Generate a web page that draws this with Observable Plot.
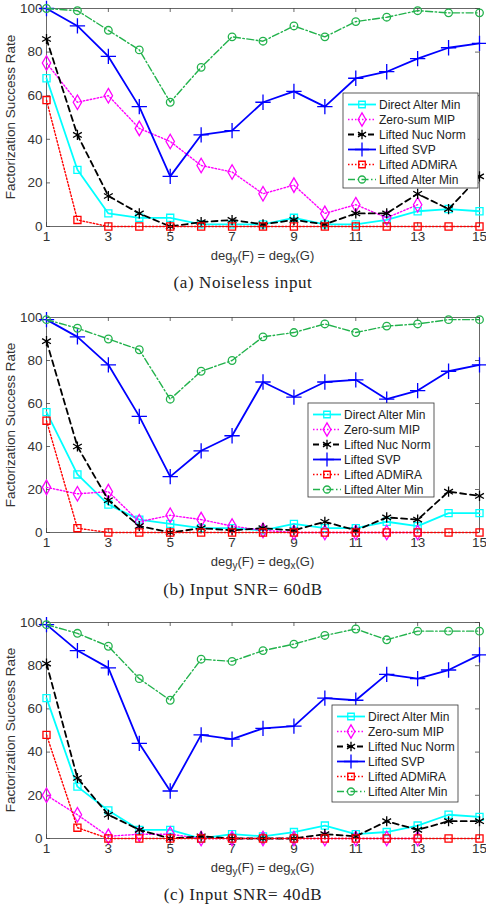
<!DOCTYPE html>
<html><head><meta charset="utf-8">
<script src="https://cdn.jsdelivr.net/npm/d3@7"></script>
<script src="https://cdn.jsdelivr.net/npm/@observablehq/plot@0.6"></script>
<style>
body{margin:0;background:#fff;}
#root{position:relative;width:486px;height:914px;overflow:hidden;font-family:"Liberation Sans",Arial,sans-serif;background:#fff;}
.abs{position:absolute;}
svg.abs g[aria-label$="tick label"]{font-size:13.5px !important;}
svg.abs g[aria-label$="tick label"] text{font-size:13.5px !important;}
.xlabel{position:absolute;left:46px;width:433px;text-align:center;font-size:13px;color:#333;line-height:14px;}
.xlabel sub{font-size:10px;vertical-align:-3px;line-height:0;}
.caption{position:absolute;left:0;width:486px;text-align:center;font-family:"Liberation Serif","Times New Roman",serif;font-size:17px;letter-spacing:0.6px;color:#222;line-height:20px;}
.ylabel{position:absolute;font-size:13.5px;color:#333;white-space:nowrap;transform:translate(-50%,-50%) rotate(-90deg);}
</style></head>
<body><div id="root"></div>
<script>
// ---- data ----
const degrees = [1,2,3,4,5,6,7,8,9,10,11,12,13,14,15];
const xTicks = [1,3,5,7,9,11,13,15];
const yTicks = [0,20,40,60,80,100];
const methods = ["Direct Alter Min","Zero-sum MIP","Lifted Nuc Norm","Lifted SVP","Lifted ADMiRA","Lifted Alter Min"];
const captions = ["(a) Noiseless input","(b) Input SNR= 60dB","(c) Input SNR= 40dB"];
const yLabel = "Factorization Success Rate";

// (a) Noiseless input
const directAlterMinA = [68,26,6,4,4,1,1,1,4,1,1,3,7,8,7];
const zeroSumMipA     = [75,57,60,45,39,28,25,15,19,6,10,4,10,null,null];
const liftedNucNormA  = [86,42,14,6,0,2,3,1,3,1,6,6,15,8,23];
const liftedSvpA      = [100,92,78,55,23,42,44,57,62,55,68,71,77,82,84];
const liftedAdmiraA   = [58,3,0,0,0,0,0,0,0,0,0,0,0,0,0];
const liftedAlterMinA = [100,99,90,81,57,73,87,85,92,87,94,96,99,98,98];

// (b) Input SNR = 60dB
const directAlterMinB = [56,27,13,6,4,2,2,1,4,2,2,5,3,9,9];
const zeroSumMipB     = [21,18,19,5,8,6,3,1,0,0,0,0,0,null,null];
const liftedNucNormB  = [89,40,15,3,0,2,1,2,1,5,1,7,6,19,17];
const liftedSvpB      = [99,91,78,54,26,38,45,70,63,70,71,62,66,75,78];
const liftedAdmiraB   = [52,2,0,0,0,0,0,0,0,0,0,0,0,0,0];
const liftedAlterMinB = [99,95,90,85,62,75,80,91,93,97,93,96,97,99,99];

// (c) Input SNR = 40dB
const directAlterMinC = [65,24,13,4,4,0,2,1,3,6,2,3,6,11,10];
const zeroSumMipC     = [20,11,1,2,2,0,0,0,0,0,0,0,0,null,null];
const liftedNucNormC  = [81,28,11,4,0,1,0,0,0,2,1,8,4,8,8];
const liftedSvpC      = [99,87,79,44,22,48,46,51,52,65,64,76,74,78,85];
const liftedAdmiraC   = [48,5,0,0,0,0,0,0,0,0,0,0,0,0,0];
const liftedAlterMinC = [99,95,89,74,64,83,82,87,90,94,97,92,96,96,96];

// ---- styles ----
const styles = [
  {color:"#00ffff", dash:null,     width:1.8, symbol:"square",  r:4.0},
  {color:"#ff00ff", dash:"1.5,2",  width:1.4, symbol:"diamond", r:4.4},
  {color:"#000000", dash:"6,4",    width:1.8, symbol:"asterisk",r:4.8},
  {color:"#0000ff", dash:null,     width:1.8, symbol:"plus",    r:5.0},
  {color:"#ff0000", dash:"1.5,2",  width:1.4, symbol:"square",  r:4.0},
  {color:"#22b24c", dash:"7,2.5,1.5,2.5", width:1.4, symbol:"circle", r:3.8}
];

const panels = [
  {series:[directAlterMinA,zeroSumMipA,liftedNucNormA,liftedSvpA,liftedAdmiraA,liftedAlterMinA], top:8, bottom:226, xlab:257, cap:283, legend:{x:343,y:93,w:135,h:95}},
  {series:[directAlterMinB,zeroSumMipB,liftedNucNormB,liftedSvpB,liftedAdmiraB,liftedAlterMinB], top:317, bottom:532, xlab:563, cap:590, legend:{x:308,y:403,w:126,h:94}},
  {series:[directAlterMinC,zeroSumMipC,liftedNucNormC,liftedSvpC,liftedAdmiraC,liftedAlterMinC], top:622, bottom:838, xlab:869, cap:895, legend:{x:332,y:705,w:126,h:97}}
];

const root = document.getElementById("root");
const W = 486, ML = 46, MR = 7, MT = 10, MB = 26, TICK = 4;
const axisColor = "#444";

panels.forEach((p, pi) => {
  const plotH = p.bottom - p.top;
  const plotW = W - ML - MR;
  const marks = [
    Plot.frame({stroke: axisColor, strokeWidth: 0.8}),
    Plot.tickX(xTicks, {x: d => d, stroke: axisColor, strokeWidth: 0.8, insetTop: plotH - TICK}),
    Plot.tickX(xTicks, {x: d => d, stroke: axisColor, strokeWidth: 0.8, insetBottom: plotH - TICK}),
    Plot.tickY(yTicks, {y: d => d, stroke: axisColor, strokeWidth: 0.8, insetRight: plotW - TICK}),
    Plot.tickY(yTicks, {y: d => d, stroke: axisColor, strokeWidth: 0.8, insetLeft: plotW - TICK}),
    Plot.axisX({ticks: xTicks, tickSize: 0, tickPadding: 5, label: null, fontSize: 13.5, color: "#333"}),
    Plot.axisY({ticks: yTicks, tickSize: 0, tickPadding: 4, label: null, fontSize: 13.5, color: "#333"})
  ];
  methods.forEach((m, i) => {
    const s = styles[i];
    const rows = degrees.map((d, j) => ({deg: d, rate: p.series[i][j]}));
    marks.push(Plot.line(rows, {x: "deg", y: "rate", stroke: s.color, strokeWidth: s.width, strokeDasharray: s.dash || undefined}));
    marks.push(Plot.dot(rows.filter(r => r.rate != null), {x: "deg", y: "rate", symbol: () => s.symbol, r: s.r, stroke: s.color, fill: "none", strokeWidth: 1.3}));
  });
  const chart = Plot.plot({
    width: W, height: plotH + MT + MB,
    marginLeft: ML, marginRight: MR, marginTop: MT, marginBottom: MB,
    x: {domain: [1, 15]},
    y: {domain: [0, 100]},
    symbol: {type: "identity"},
    style: {fontFamily: '"Liberation Sans", Arial, sans-serif', fontSize: "13.5px", background: "transparent", overflow: "visible"},
    marks
  });
  chart.classList.add("abs");
  chart.style.left = "0px";
  chart.style.top = (p.top - MT) + "px";
  chart.querySelectorAll('g[aria-label$="tick label"]').forEach(g => {
    g.setAttribute("font-size", "13.5");
    g.querySelectorAll("text").forEach(t => t.setAttribute("font-size", "13.5"));
  });
  root.appendChild(chart);

  // y label
  const yl = document.createElement("div");
  yl.className = "ylabel";
  yl.textContent = yLabel;
  yl.style.left = "10px";
  yl.style.top = ((p.top + p.bottom) / 2) + "px";
  root.appendChild(yl);

  // x label
  const xl = document.createElement("div");
  xl.className = "xlabel";
  xl.innerHTML = "deg<sub>y</sub>(F) = deg<sub>x</sub>(G)";
  xl.style.top = (p.xlab - 8) + "px";
  root.appendChild(xl);

  // caption
  const cp = document.createElement("div");
  cp.className = "caption";
  cp.textContent = captions[pi];
  cp.style.top = (p.cap - 10) + "px";
  root.appendChild(cp);

  // legend
  const L = p.legend;
  const svg = d3.create("svg").attr("width", L.w + 2).attr("height", L.h + 2)
    .style("position", "absolute").style("left", (L.x - 1) + "px").style("top", (L.y - 1) + "px");
  svg.append("rect").attr("x", 1).attr("y", 1).attr("width", L.w).attr("height", L.h)
    .attr("fill", "#fff").attr("stroke", "#333").attr("stroke-width", 0.8);
  const symMap = {square: d3.symbolSquare, diamond: d3.symbolDiamond, asterisk: d3.symbolAsterisk, plus: d3.symbolPlus, circle: d3.symbolCircle};
  methods.forEach((m, i) => {
    const s = styles[i];
    const cy = 1 + 11.5 + i * 15;
    const g = svg.append("g");
    g.append("line").attr("x1", 1 + 5).attr("x2", 1 + 33).attr("y1", cy).attr("y2", cy)
      .attr("stroke", s.color).attr("stroke-width", s.width).attr("stroke-dasharray", s.dash);
    g.append("path").attr("transform", `translate(${1 + 19},${cy})`)
      .attr("d", d3.symbol(symMap[s.symbol], Math.PI * s.r * s.r * 0.85)())
      .attr("fill", "none").attr("stroke", s.color).attr("stroke-width", 1.3);
    g.append("text").attr("x", 1 + 36).attr("y", cy).attr("dy", "0.35em")
      .attr("font-family", '"Liberation Sans", Arial, sans-serif').attr("font-size", 12).attr("fill", "#222")
      .text(m);
  });
  root.appendChild(svg.node());
});
</script>
</body></html>
